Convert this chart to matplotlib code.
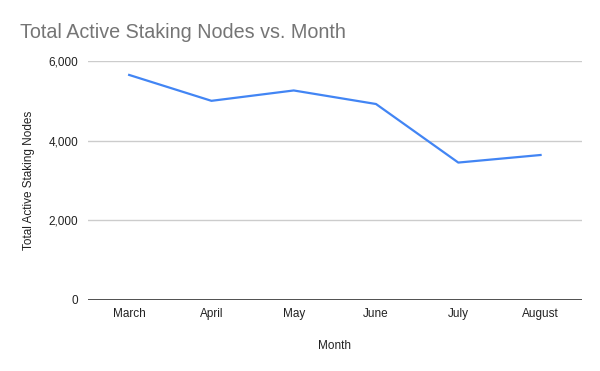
import matplotlib.pyplot as plt

plt.rcParams['font.family'] = ['Liberation Sans', 'DejaVu Sans']

months = ["March", "April", "May", "June", "July", "August"]
nodes = [5650, 5000, 5260, 4920, 3450, 3640]
y_ticks = [0, 2000, 4000, 6000]

fig = plt.figure(figsize=(6, 3.71), dpi=100)
ax = fig.add_axes([0.1467, 0.1914, 0.8228, 0.6442])

x = list(range(len(months)))
ax.plot(x, nodes, color='#4285F4', linewidth=1.6, solid_joinstyle='round')

ax.set_xlim(-0.5, len(months) - 0.5)
ax.set_ylim(0, 6000)
ax.set_yticks(y_ticks)
ax.set_yticklabels([f"{v:,}" for v in y_ticks])
ax.set_xticks(x)
ax.set_xticklabels(months)

# google sheets look: light grid, dark baseline, no frame
for s in ax.spines.values():
    s.set_visible(False)
ax.grid(axis='y', color='#cccccc', linewidth=1)
ax.set_axisbelow(True)
ax.axhline(0, color='#333333', linewidth=1.2, zorder=1)
ax.tick_params(axis='both', length=0, labelsize=8.5, labelcolor='#222222')
ax.tick_params(axis='y', pad=7)
ax.tick_params(axis='x', pad=6)

ax.set_xlabel("Month", fontsize=8.5, color='#222222', labelpad=14)
ax.set_ylabel("Total Active Staking Nodes", fontsize=8.5, color='#222222', labelpad=10)

fig.text(20 / 600, 1 - 32 / 371, "Total Active Staking Nodes vs. Month",
         fontsize=14.2, color='#757575', va='center', ha='left')

fig.savefig("out.png", dpi=100)
